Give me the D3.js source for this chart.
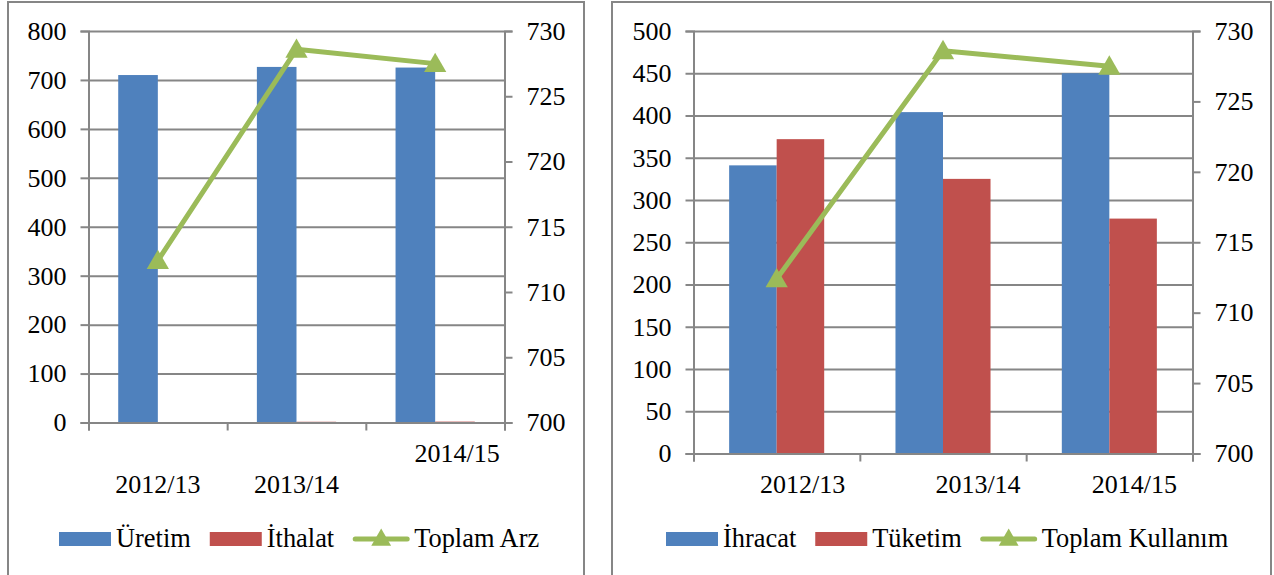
<!DOCTYPE html>
<html>
<head>
<meta charset="utf-8">
<script src="https://cdn.jsdelivr.net/npm/d3@7"></script>
<style>
  body { margin: 0; background: #fff; }
  svg text { font-family: "Liberation Serif", "Times New Roman", serif; font-size: 26px; fill: #000; }
  svg text.leg { font-size: 26.4px; }
</style>
</head>
<body>
<svg id="chart" width="1274" height="575"></svg>
<script>
// categories
const years = ["2012/13", "2013/14", "2014/15"];

// left panel: supply
const uretim = [710, 726.6, 725.3];
const ithalat = [0.4, 1.5, 1.8];
const toplamArz = [712.4, 728.6, 727.5];

// right panel: use
const ihracat = [341, 404, 450];
const tuketim = [372, 325, 278];
const toplamKullanim = [712.4, 728.6, 727.5];

// tick values
const leftTicksA = [0, 100, 200, 300, 400, 500, 600, 700, 800];
const leftTicksB = [0, 50, 100, 150, 200, 250, 300, 350, 400, 450, 500];
const rightTicks = [700, 705, 710, 715, 720, 725, 730];

const blue = "#4F81BD", red = "#C0504D", green = "#9BBB59", gray = "#868686";

const svg = d3.select("#chart");

function drawPanel(cfg) {
    // outer frame
    svg.append("rect")
        .attr("x", cfg.frame[0]).attr("y", 2)
        .attr("width", cfg.frame[1] - cfg.frame[0]).attr("height", 600)
        .attr("fill", "none").attr("stroke", gray).attr("stroke-width", 2);

    const g = svg.append("g").attr("transform", `translate(${cfg.left}, ${cfg.top})`);
    const width = cfg.right - cfg.left;
    const height = cfg.bottom - cfg.top;

    const x = d3.scaleBand().domain(years).range([0, width]).padding(0);
    const x1 = d3.scaleBand().domain([0, 1]).range([0, x.bandwidth()]).paddingInner(0).paddingOuter(0.75);
    const y = d3.scaleLinear().domain(cfg.yDomain).range([height, 0]);
    const y2 = d3.scaleLinear().domain([700, 730]).range([height, 0]);

    // gridlines
    g.append("g")
        .call(d3.axisLeft(y).tickValues(cfg.ticks).tickSize(-width).tickFormat(""))
        .call(s => s.select(".domain").remove())
        .call(s => s.selectAll("line").attr("stroke", gray).attr("stroke-width", 2));

    // bars
    const series = [cfg.bars[0], cfg.bars[1]];
    series.forEach((ser, k) => {
        g.selectAll(".bar" + k)
            .data(ser.values)
            .enter()
            .append("rect")
            .attr("x", (d, i) => x(years[i]) + x1(k))
            .attr("y", d => y(d))
            .attr("width", x1.bandwidth())
            .attr("height", d => height - y(d))
            .attr("fill", ser.color);
    });

    // left axis
    g.append("g")
        .call(d3.axisLeft(y).tickValues(cfg.ticks).tickSize(8).tickPadding(14))
        .call(s => s.select(".domain").attr("stroke", gray).attr("stroke-width", 2))
        .call(s => s.selectAll("line").attr("stroke", gray).attr("stroke-width", 2))
        .call(s => s.selectAll("text").attr("font-size", null).attr("font-family", null));

    // right axis
    g.append("g")
        .attr("transform", `translate(${width}, 0)`)
        .call(d3.axisRight(y2).tickValues(rightTicks).tickSize(8).tickPadding(14))
        .call(s => s.select(".domain").attr("stroke", gray).attr("stroke-width", 2))
        .call(s => s.selectAll("line").attr("stroke", gray).attr("stroke-width", 2))
        .call(s => s.selectAll("text").attr("font-size", null).attr("font-family", null));

    // category boundary ticks
    const xi = d3.scaleLinear().domain([0, years.length]).range([0, width]);
    g.append("g")
        .attr("transform", `translate(0, ${height})`)
        .call(d3.axisBottom(xi).tickValues(d3.range(years.length + 1)).tickSize(8).tickFormat(""))
        .call(s => s.select(".domain").attr("stroke", gray).attr("stroke-width", 2))
        .call(s => s.selectAll("line").attr("stroke", gray).attr("stroke-width", 2));

    // category labels
    g.selectAll(".cat")
        .data(years)
        .enter()
        .append("text")
        .attr("x", (d, i) => x(d) + x.bandwidth() / 2 + cfg.labelOffset[i][0])
        .attr("y", (d, i) => cfg.labelOffset[i][1] - cfg.top)
        .attr("text-anchor", "middle")
        .text(d => d);

    // line series
    const line = d3.line()
        .x((d, i) => x(years[i]) + x.bandwidth() / 2)
        .y(d => y2(d));

    g.append("path")
        .datum(cfg.line.values)
        .attr("d", line)
        .attr("fill", "none")
        .attr("stroke", green)
        .attr("stroke-width", 5)
        .attr("stroke-linejoin", "round")
        .attr("stroke-linecap", "round");

    g.selectAll(".marker")
        .data(cfg.line.values)
        .enter()
        .append("path")
        .attr("d", d3.symbol(d3.symbolTriangle).size(215))
        .attr("transform", (d, i) => `translate(${x(years[i]) + x.bandwidth() / 2}, ${y2(d) + 2})`)
        .attr("fill", green);

    // legend
    const legend = svg.append("g").attr("transform", `translate(${cfg.legendX}, 539)`);
    let cx = 0;
    const items = [
        { name: cfg.bars[0].name, color: cfg.bars[0].color, type: "bar" },
        { name: cfg.bars[1].name, color: cfg.bars[1].color, type: "bar" },
        { name: cfg.line.name, color: green, type: "line" }
    ];
    items.forEach(it => {
        if (it.type === "bar") {
            legend.append("rect")
                .attr("x", cx).attr("y", -7)
                .attr("width", 52).attr("height", 14)
                .attr("fill", it.color);
            cx += 57;
        } else {
            legend.append("line")
                .attr("x1", cx + 2).attr("x2", cx + 54)
                .attr("y1", 0).attr("y2", 0)
                .attr("stroke", green).attr("stroke-width", 5)
                .attr("stroke-linecap", "round");
            legend.append("path")
                .attr("d", d3.symbol(d3.symbolTriangle).size(170))
                .attr("transform", `translate(${cx + 28}, 1)`)
                .attr("fill", green);
            cx += 61;
        }
        const t = legend.append("text")
            .attr("class", "leg")
            .attr("x", cx).attr("y", 8)
            .text(it.name);
        cx += t.node().getComputedTextLength() + 19;
    });
}

drawPanel({
    frame: [8, 584],
    left: 88.5, right: 504.5, top: 31, bottom: 422.5,
    yDomain: [0, 800],
    ticks: leftTicksA,
    bars: [
        { name: "Üretim", values: uretim, color: blue },
        { name: "İthalat", values: ithalat, color: red }
    ],
    line: { name: "Toplam Arz", values: toplamArz },
    labelOffset: [[0, 493], [0, 493], [22, 462]],
    legendX: 59
});

drawPanel({
    frame: [612, 1271],
    left: 693.5, right: 1192.5, top: 31, bottom: 453.5,
    yDomain: [0, 500],
    ticks: leftTicksB,
    bars: [
        { name: "İhracat", values: ihracat, color: blue },
        { name: "Tüketim", values: tuketim, color: red }
    ],
    line: { name: "Toplam Kullanım", values: toplamKullanim },
    labelOffset: [[26, 493], [35, 493], [25, 493]],
    legendX: 666
});
</script>
</body>
</html>
